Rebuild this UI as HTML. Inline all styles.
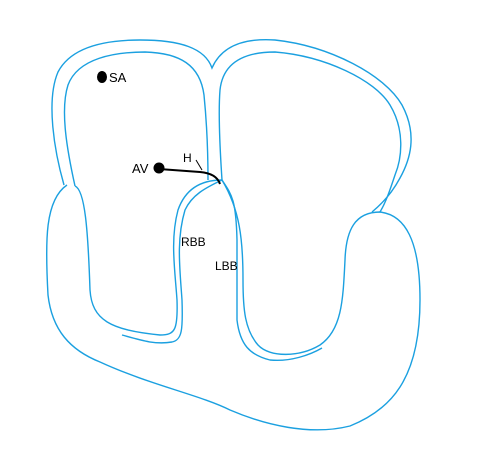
<!DOCTYPE html>
<html><head><meta charset="utf-8"><style>
html,body{margin:0;padding:0;background:#fff;}
svg{display:block}
text{font-family:"Liberation Sans",sans-serif;fill:#000}
</style></head><body>
<svg width="479" height="459" viewBox="0 0 479 459">
<g fill="none" stroke="#1ba0e0" stroke-width="1.4">
<path d="M64,185 C54,150 46,100 58,72 C72,45 110,40 140,40 C180,40 205,48 212,68 C222,45 245,38 275,40 C330,46 385,75 402,105 C418,135 410,160 400,178 C392,193 383,203 372,212"/>
<path d="M75,186 C67,150 60,110 68,85 C78,58 115,52 145,52 C180,53 200,65 204,95 C207,125 208,160 208,180"/>
<path d="M222,180 C220,150 218,115 220,90 C223,62 245,52 275,52 C325,56 375,80 390,105 C405,130 402,158 395,175 C390,190 386,202 380,212"/>
<path d="M67,185 C45,200 45,240 48,295 C52,330 70,350 100,362 C150,385 200,395 230,410 C265,425 310,436 350,426 C390,410 420,380 420,300 C420,240 405,215 380,212 C355,212 346,230 345,260 C343,300 342,330 320,345 C300,357 270,358 258,345 C245,330 243,310 243,280 C243,240 240,210 222,180"/>
<path d="M222,180 C232,195 236,200 237,240 L237,320 C240,345 250,355 270,360 C290,362 310,355 322,348"/>
<path d="M75,186 C85,190 88,230 90,290 C92,320 110,330 160,335 C175,335 178,330 177,300 C175,270 170,240 178,210 C185,190 200,180 222,180"/>
<path d="M122,335 C140,340 155,345 172,342 C182,340 183,330 182,300 C180,270 176,240 185,210 C192,195 205,188 222,180"/>
</g>
<path d="M159,169 L200,172 C212,173 218,178 220,184" fill="none" stroke="#000" stroke-width="2"/>
<line x1="196" y1="160" x2="202" y2="170" stroke="#000" stroke-width="1"/>
<ellipse cx="102" cy="77" rx="5" ry="6" fill="#000"/>
<circle cx="159" cy="168" r="5.5" fill="#000"/>
<text x="109" y="82" font-size="13">SA</text>
<text x="132" y="173" font-size="13">AV</text>
<text x="183" y="162" font-size="12">H</text>
<text x="181" y="246" font-size="12">RBB</text>
<text x="215" y="270" font-size="12">LBB</text>
</svg>
</body></html>
